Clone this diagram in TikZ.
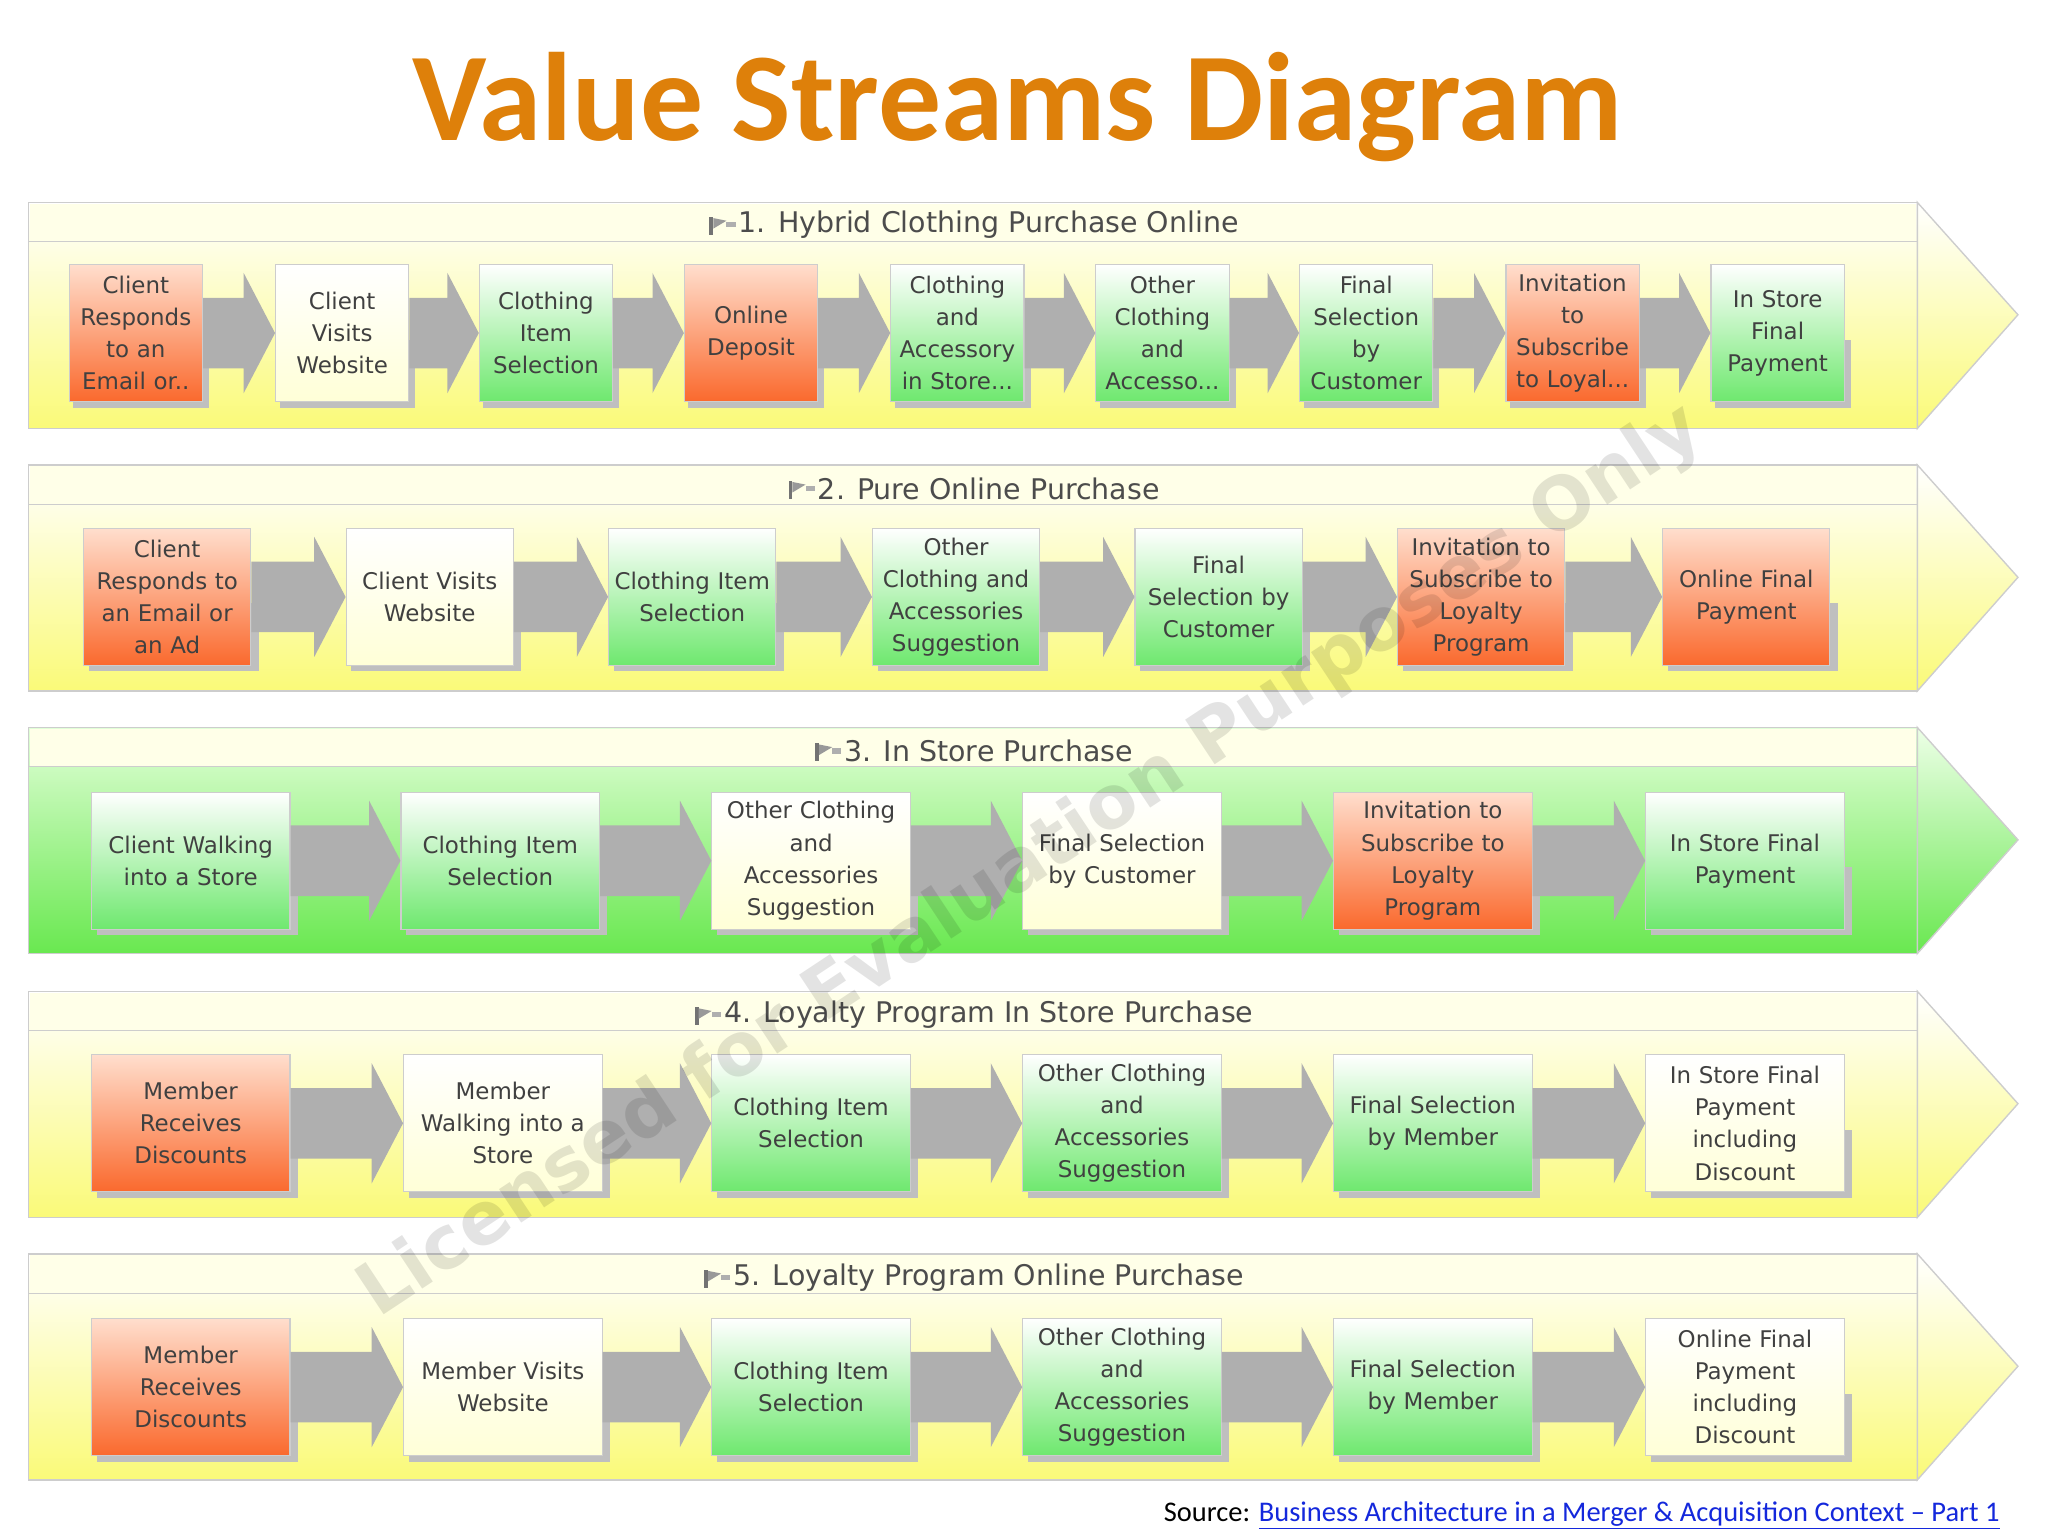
\documentclass[tikz,border=0pt]{standalone}
\usepackage{fontspec}
\setmainfont{DejaVu Sans}
\newfontfamily\calfnt{Carlito}
\usetikzlibrary{calc}
\definecolor{ttl}{RGB}{222,128,10}
\definecolor{agray}{RGB}{175,175,175}
\definecolor{bline}{RGB}{205,205,205}
\definecolor{lnk}{RGB}{20,40,220}
\definecolor{oTop}{RGB}{255,222,205}
\definecolor{oBot}{RGB}{250,105,45}
\definecolor{gBot}{RGB}{110,232,110}
\definecolor{wBot}{RGB}{255,255,215}
\definecolor{yBot}{RGB}{250,250,120}
\definecolor{gTopB}{RGB}{225,255,215}
\definecolor{gBotB}{RGB}{105,232,80}
\definecolor{hdrF}{RGB}{255,255,232}
\tikzset{
 x=0.05cm,y=-0.05cm,
 bx/.style={draw=bline,line width=1.2pt,align=center,inner sep=1pt,
   font=\fontsize{25}{35}\selectfont,text=black!75,
   minimum height=105*0.05cm},
 bO/.style={bx,top color=oTop,bottom color=oBot},
 bG/.style={bx,top color=white,bottom color=gBot},
 bW/.style={bx,top color=white,bottom color=wBot},
 shd/.style={fill=black!25},
 hdr/.style={font=\fontsize{31}{36}\selectfont,text=black!70},
}
\newcommand\band[3]{% y, topcolor, bottomcolor
 \shade[top color=#2,bottom color=#3,draw=bline,line width=1.5pt] (22,#1) rectangle (1468,#1+173);
 \shade[top color=#2!60!white,bottom color=#3,draw=bline,line width=1.5pt] (1468,#1) -- (1545,#1+86) -- (1468,#1+173) -- cycle;
 \fill[hdrF] (23,#1+1) rectangle (1467,#1+30);
 \draw[bline,line width=1.2pt] (22,#1+30) -- (1468,#1+30);
}
\newcommand\harrow[2]{%
 \fill[agray] ($(#1.east)+(0,-27)$) -- ($(#2.west)+(-24,-27)$) -- ($(#2.west)+(-24,-46)$) -- (#2.west) -- ($(#2.west)+(-24,46)$) -- ($(#2.west)+(-24,27)$) -- ($(#1.east)+(0,27)$) -- cycle;}
\newcommand\flag[1]{\fill[black!55] (#1) ++(-12,-6) rectangle ++(3,14); \fill[black!40] (#1) ++(-9,-5) -- ++(10,2) -- ++(-10,6) -- cycle;\fill[agray] (#1) ++(1,-2) rectangle ++(7,4);}
\begin{document}
\begin{tikzpicture}
\useasboundingbox (0,0) rectangle (1568,1176);
\fill[white] (0,0) rectangle (1568,1176);
\node[text=ttl,font=\calfnt\bfseries\fontsize{137}{140}\selectfont] (title) at (779,82) {Value Streams Diagram};
% bands
\band{155}{white}{yBot}
\band{356}{white}{yBot}
\band{557}{gTopB}{gBotB}
\band{759}{white}{yBot}
\band{960}{white}{yBot}
% headers
\node[hdr] (h1) at (757,172) {1. Hybrid Clothing Purchase Online}; \flag{$(h1.west)+(-8,0)$}
\node[hdr] (h2) at (757,374) {2. Pure Online Purchase}; \flag{$(h2.west)+(-8,0)$}
\node[hdr] (h3) at (757,575) {3. In Store Purchase}; \flag{$(h3.west)+(-8,0)$}
\node[hdr] (h4) at (757,777) {4. Loyalty Program In Store Purchase}; \flag{$(h4.west)+(-8,0)$}
\node[hdr] (h5) at (757,978) {5. Loyalty Program Online Purchase}; \flag{$(h5.west)+(-8,0)$}
% row 1
\foreach \x/\c/\t [count=\i] in {104/O/{Client\\Responds\\to an\\Email or..},262/W/{Client\\Visits\\Website},418/G/{Clothing\\Item\\Selection},575/O/{Online\\Deposit},733/G/{Clothing\\and\\Accessory\\in Store...},890/G/{Other\\Clothing\\and\\Accesso...},1046/G/{Final\\Selection\\by\\Customer},1204/O/{Invitation\\to\\Subscribe\\to Loyal...},1361/G/{In Store\\Final\\Payment}}{
 \fill[shd] (\x-48,260) rectangle (\x+56,312);
 \node[b\c,minimum width=102*0.05cm,text width=100*0.05cm] (r1b\i) at (\x,255) {\t};}
\foreach \i [evaluate=\i as \j using int(\i+1)] in {1,...,8}{\harrow{r1b\i}{r1b\j}}
% row 2
\foreach \x/\c/\t [count=\i] in {128/O/{Client\\Responds to\\an Email or\\an Ad},329/W/{Client Visits\\Website},530/G/{Clothing Item\\Selection},732/G/{Other\\Clothing and\\Accessories\\Suggestion},933/G/{Final\\Selection by\\Customer},1134/O/{Invitation to\\Subscribe to\\Loyalty\\Program},1337/O/{Online Final\\Payment}}{
 \fill[shd] (\x-60,462) rectangle (\x+70,514);
 \node[b\c,minimum width=128*0.05cm,text width=126*0.05cm] (r2b\i) at (\x,457) {\t};}
\foreach \i [evaluate=\i as \j using int(\i+1)] in {1,...,6}{\harrow{r2b\i}{r2b\j}}
% row 3
\foreach \x/\c/\t [count=\i] in {146/G/{Client Walking\\into a Store},383/G/{Clothing Item\\Selection},621/W/{Other Clothing\\and\\Accessories\\Suggestion},859/W/{Final Selection\\by Customer},1097/O/{Invitation to\\Subscribe to\\Loyalty\\Program},1336/G/{In Store Final\\Payment}}{
 \fill[shd] (\x-72,664) rectangle (\x+82,716);
 \node[b\c,minimum width=152*0.05cm,text width=150*0.05cm] (r3b\i) at (\x,659) {\t};}
\foreach \i [evaluate=\i as \j using int(\i+1)] in {1,...,5}{\harrow{r3b\i}{r3b\j}}
% row 4
\foreach \x/\c/\t [count=\i] in {146/O/{Member\\Receives\\Discounts},385/W/{Member\\Walking into a\\Store},621/G/{Clothing Item\\Selection},859/G/{Other Clothing\\and\\Accessories\\Suggestion},1097/G/{Final Selection\\by Member},1336/W/{In Store Final\\Payment\\including\\Discount}}{
 \fill[shd] (\x-72,865) rectangle (\x+82,917);
 \node[b\c,minimum width=152*0.05cm,text width=150*0.05cm] (r4b\i) at (\x,860) {\t};}
\foreach \i [evaluate=\i as \j using int(\i+1)] in {1,...,5}{\harrow{r4b\i}{r4b\j}}
% row 5
\foreach \x/\c/\t [count=\i] in {146/O/{Member\\Receives\\Discounts},385/W/{Member Visits\\Website},621/G/{Clothing Item\\Selection},859/G/{Other Clothing\\and\\Accessories\\Suggestion},1097/G/{Final Selection\\by Member},1336/W/{Online Final\\Payment\\including\\Discount}}{
 \fill[shd] (\x-72,1067) rectangle (\x+82,1119);
 \node[b\c,minimum width=152*0.05cm,text width=150*0.05cm] (r5b\i) at (\x,1062) {\t};}
\foreach \i [evaluate=\i as \j using int(\i+1)] in {1,...,5}{\harrow{r5b\i}{r5b\j}}
% watermark (on top, as in the reference)
\node[rotate=33.5,text=black,opacity=0.11,font=\bfseries\fontsize{80}{80}\selectfont] (wm) at (790,660) {Licensed for Evaluation Purposes Only};
% source
\node[anchor=east,font=\calfnt\fontsize{31}{33}\selectfont,inner sep=0pt] (src) at (1531,1160) {Source: \textcolor{lnk}{\underline{Business Architecture in a Merger \& Acquisition Context – Part 1}}};
\end{tikzpicture}
\end{document}
